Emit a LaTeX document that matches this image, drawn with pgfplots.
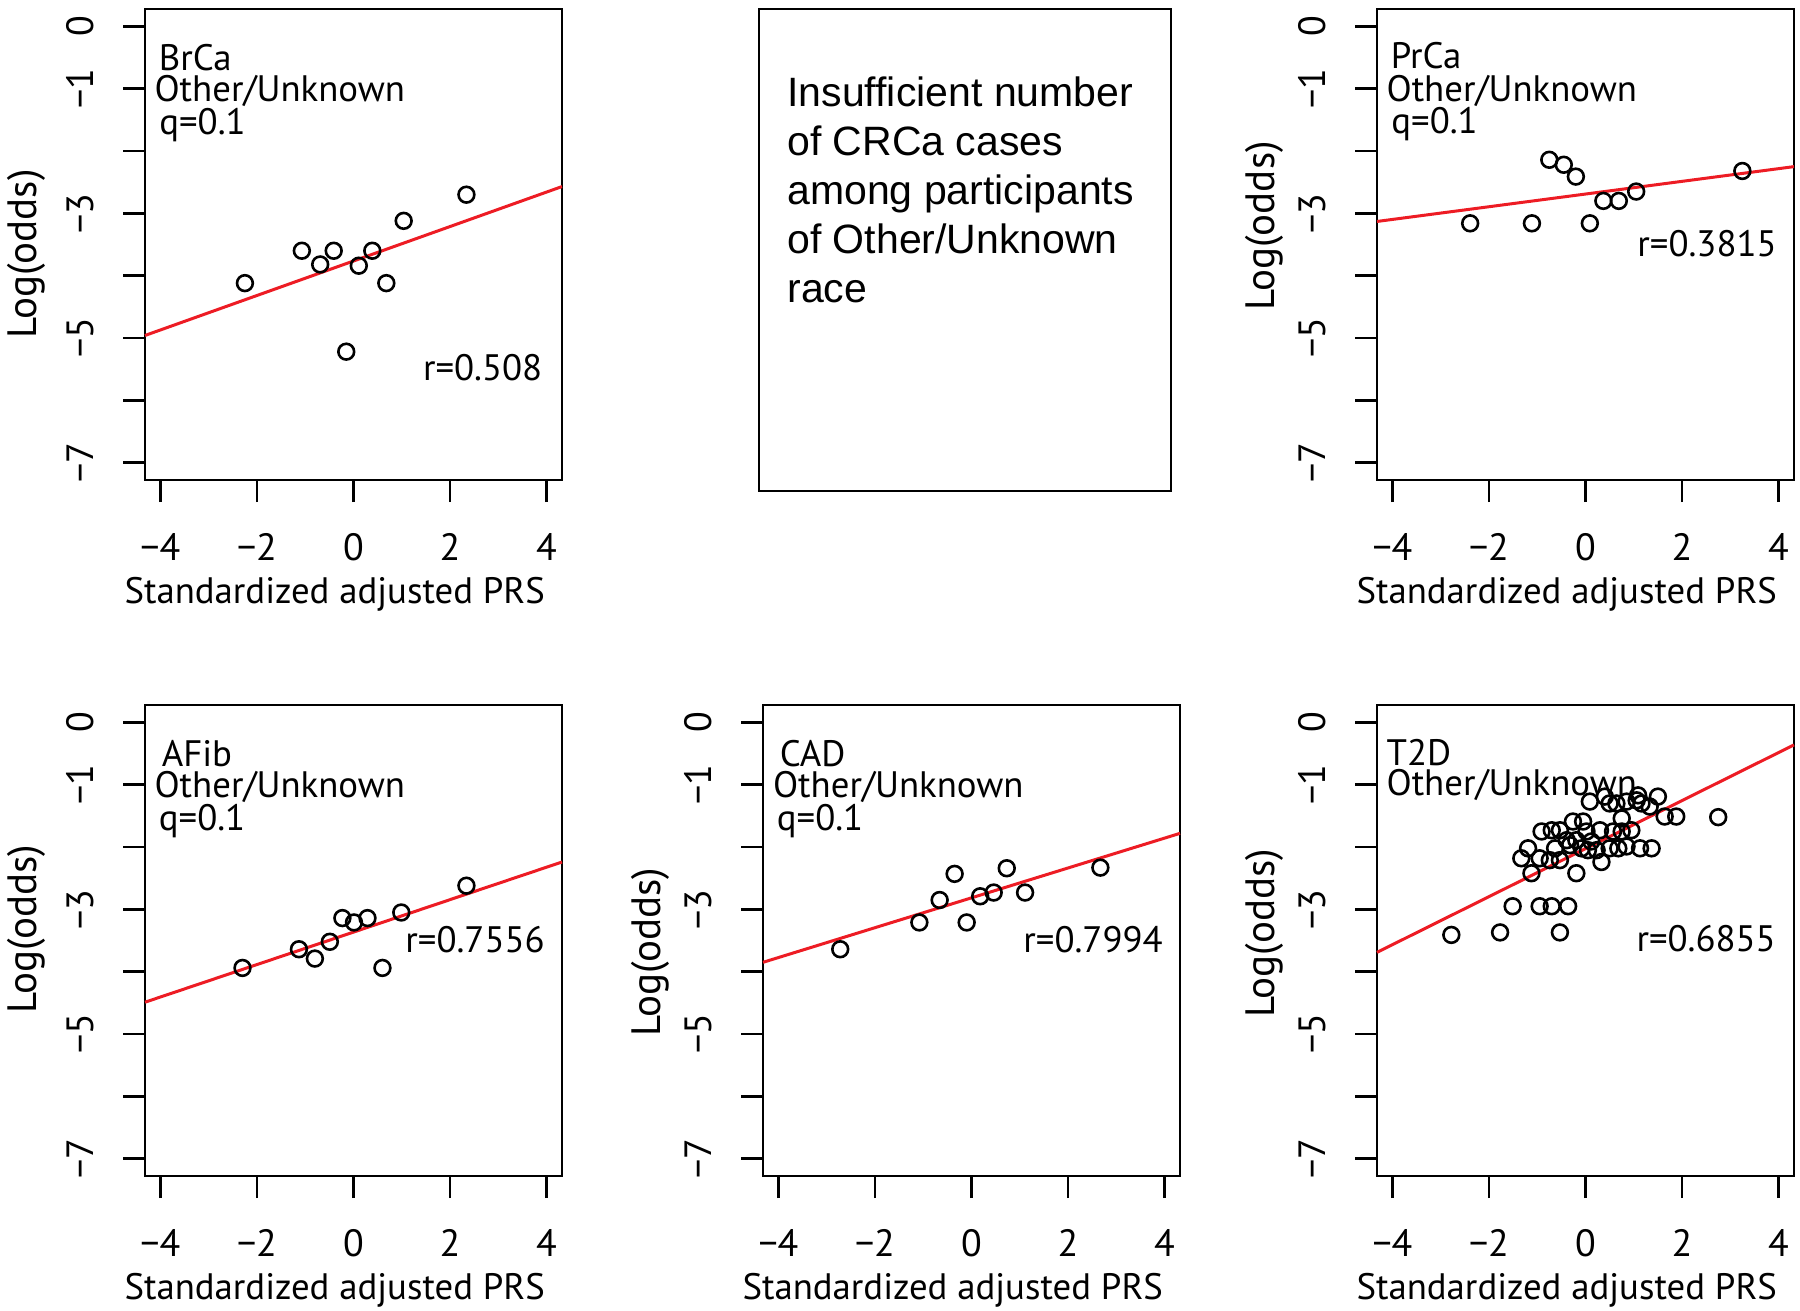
\documentclass[border=0pt]{standalone}
\usepackage{fontspec}
\setmainfont{PT Sans}
\newfontfamily\boxfont{Liberation Sans}
\usepackage{pgfplots}
\pgfplotsset{compat=1.18}
\definecolor{fitred}{HTML}{ED1C24}
\newcommand\pf{\fontsize{18.4bp}{21bp}\selectfont}
\newcommand\tf{\fontsize{19bp}{21bp}\selectfont}
\newcommand\yf{\fontsize{20.5bp}{23bp}\selectfont}

\pgfplotsset{
  prs/.style={
    scale only axis, width=208.5bp, height=235.5bp,
    anchor=north west, clip=false,
    xmin=-4.32, xmax=4.32, ymin=-7.28, ymax=0.28,
    axis line style={line width=1.4bp},
    tick align=outside, major tick length=11bp, tick pos=left,
    every tick/.style={black, line width=1.4bp},
    xtick={-4,-2,0,2,4}, xticklabels={−4,−2,0,2,4},
    ytick={0,-1,-2,-3,-4,-5,-6,-7}, yticklabels={0,−1,,−3,,−5,,−7},
    tick label style={font=\tf, inner sep=0pt},
    xticklabel style={anchor=base}, xticklabel shift=29bp,
    yticklabel style={rotate=90, anchor=base}, yticklabel shift=15bp,
    xlabel={Standardized adjusted PRS},
    ylabel={Log(odds)},
    label style={inner sep=0pt},
    xlabel style={font=\pf, at={(axis description cs:0.455,0)}, anchor=base, yshift=-61.5bp},
    ylabel style={font=\yf, anchor=base},
  },
  fit/.style={fitred, line width=1.5bp},
  pts/.style={black, only marks, mark=o, mark size=3.95bp, mark options={line width=1.3bp}},
}
\tikzset{
  txt/.style={anchor=base west, inner sep=0pt, font=\pf},
  rtxt/.style={anchor=base east, inner sep=0pt, font=\pf},
}

\begin{document}
\begin{tikzpicture}
\path (0,0) rectangle (900bp,-655.5bp);

% BrCa
\begin{axis}[prs, at={(72.5bp,-4.5bp)}, ylabel style={at={(axis description cs:-0.261,0.48)}}]
\addplot[fit] coordinates {(-4.32,-4.96) (4.32,-2.57)};
\addplot[pts] coordinates {
(-2.25,-4.12) (-1.07,-3.60) (-0.69,-3.82) (-0.41,-3.60) (0.11,-3.84)
(0.39,-3.60) (0.68,-4.12) (1.04,-3.12) (2.34,-2.70) (-0.15,-5.22)};
\node[txt] at (axis cs:-4.04,-0.70) {BrCa};
\node[txt] at (axis cs:-4.13,-1.20) {Other/Unknown};
\node[txt] at (axis cs:-4.03,-1.74) {q=0.1};
\node[rtxt] at (axis cs:3.92,-5.68) {r=0.508};
\end{axis}

% no CRCa panel
\begin{axis}[scale only axis, width=206bp, height=241bp, at={(379.5bp,-4.5bp)}, anchor=north west,
  xmin=0, xmax=206, ymin=-241, ymax=0, xtick=\empty, ytick=\empty, axis line style={line width=1.4bp}]
\begin{scope}[every node/.style={anchor=base west, inner sep=0pt, font=\boxfont\fontsize{20.5bp}{24bp}\selectfont}]
\node at (axis cs:14,-48.5) {Insufficient number};
\node at (axis cs:14,-73) {of CRCa cases};
\node at (axis cs:14,-97.5) {among participants};
\node at (axis cs:14,-122) {of Other/Unknown};
\node at (axis cs:14,-146.5) {race};
\end{scope}
\end{axis}

% PrCa
\begin{axis}[prs, at={(688.5bp,-4.5bp)}, ylabel style={at={(axis description cs:-0.247,0.54)}}]
\addplot[fit] coordinates {(-4.32,-3.13) (4.32,-2.25)};
\addplot[pts] coordinates {
(-2.39,-3.16) (-1.11,-3.16) (-0.75,-2.14) (-0.45,-2.22) (-0.20,-2.41)
(0.09,-3.16) (0.37,-2.80) (0.69,-2.80) (1.05,-2.65) (3.25,-2.32)};
\node[txt] at (axis cs:-4.04,-0.67) {PrCa};
\node[txt] at (axis cs:-4.13,-1.20) {Other/Unknown};
\node[txt] at (axis cs:-4.03,-1.72) {q=0.1};
\node[rtxt] at (axis cs:3.97,-3.69) {r=0.3815};
\end{axis}

% AFib
\begin{axis}[prs, at={(72.5bp,-352.5bp)}, ylabel style={at={(axis description cs:-0.261,0.524)}}]
\addplot[fit] coordinates {(-4.32,-4.49) (4.32,-2.24)};
\addplot[pts] coordinates {
(-2.30,-3.94) (-1.13,-3.64) (-0.80,-3.79) (-0.49,-3.52) (-0.23,-3.14)
(0.01,-3.21) (0.29,-3.14) (0.60,-3.94) (0.99,-3.05) (2.34,-2.62)};
\node[txt] at (axis cs:-3.98,-0.70) {AFib};
\node[txt] at (axis cs:-4.13,-1.21) {Other/Unknown};
\node[txt] at (axis cs:-4.04,-1.73) {q=0.1};
\node[rtxt] at (axis cs:3.97,-3.70) {r=0.7556};
\end{axis}

% CAD
\begin{axis}[prs, at={(381.5bp,-352.5bp)}, ylabel style={at={(axis description cs:-0.247,0.475)}}]
\addplot[fit] coordinates {(-4.32,-3.85) (4.32,-1.78)};
\addplot[pts] coordinates {
(-2.72,-3.64) (-1.08,-3.21) (-0.66,-2.85) (-0.35,-2.43) (-0.10,-3.21)
(0.18,-2.79) (0.46,-2.73) (0.73,-2.34) (1.11,-2.73) (2.67,-2.33)};
\node[txt] at (axis cs:-3.98,-0.70) {CAD};
\node[txt] at (axis cs:-4.12,-1.20) {Other/Unknown};
\node[txt] at (axis cs:-4.04,-1.73) {q=0.1};
\node[rtxt] at (axis cs:3.97,-3.70) {r=0.7994};
\end{axis}

% T2D
\begin{axis}[prs, at={(688.5bp,-352.5bp)}, ylabel style={at={(axis description cs:-0.247,0.515)}}]
\node[txt] at (axis cs:-4.13,-0.69) {T2D};
\node[txt] at (axis cs:-4.13,-1.18) {Other/Unknown};
\addplot[fit] coordinates {(-4.32,-3.69) (4.32,-0.36)};
\addplot[pts] table {
x y
-2.78 -3.41
-1.77 -3.37
-0.53 -3.37
-1.51 -2.95
-0.95 -2.95
-0.70 -2.95
-0.36 -2.95
-0.19 -2.42
-1.12 -2.42
-1.33 -2.18
-1.19 -2.02
-0.95 -2.18
-0.74 -2.21
-0.91 -1.75
-0.70 -1.73
-0.53 -1.73
-0.39 -1.89
-0.26 -1.59
-0.05 -1.59
0.02 -1.75
-0.32 -1.97
-0.19 -1.89
-0.63 -2.02
-0.53 -2.21
-0.08 -2.02
0.05 -2.05
0.12 -1.91
0.30 -1.73
0.23 -2.05
0.33 -2.24
0.50 -2.02
0.57 -1.75
0.68 -2.02
0.75 -1.54
0.75 -1.75
0.95 -1.73
0.85 -1.99
1.13 -2.02
1.37 -2.02
0.09 -1.27
0.40 -1.19
0.50 -1.30
0.64 -1.30
0.85 -1.27
1.06 -1.25
1.16 -1.30
1.09 -1.17
1.33 -1.35
1.50 -1.19
1.64 -1.51
1.88 -1.51
2.75 -1.52
};
\node[rtxt] at (axis cs:3.95,-3.68) {r=0.6855};
\end{axis}
\end{tikzpicture}
\end{document}
